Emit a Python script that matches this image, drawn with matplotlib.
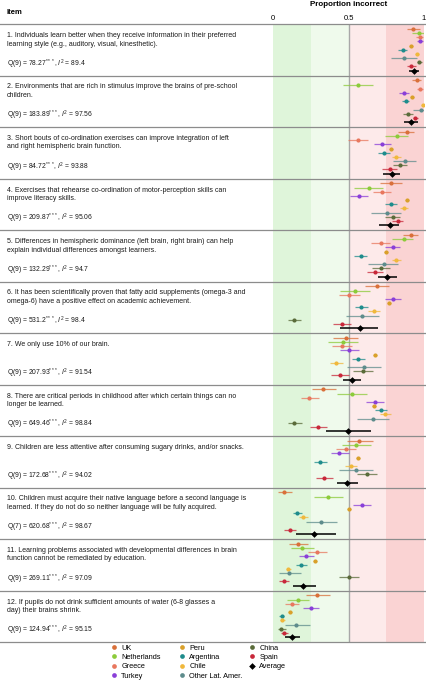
import numpy as np
import matplotlib
matplotlib.use("Agg")
import matplotlib.pyplot as plt
from matplotlib.transforms import blended_transform_factory
from matplotlib.lines import Line2D

plt.rcParams['font.family'] = ['Liberation Sans', 'DejaVu Sans']
plt.rcParams['mathtext.fontset'] = 'custom'
plt.rcParams['mathtext.rm'] = 'Liberation Sans'
plt.rcParams['mathtext.it'] = 'Liberation Sans:italic'

##Data##
countries = ['UK', 'Netherlands', 'Greece', 'Turkey', 'Peru', 'Argentina',
             'Chile', 'Other Lat. Amer.', 'China', 'Spain', 'Average']
colors = ['#d9703a', '#8ccb3a', '#e8775e', '#8a3fd8', '#d9a02a', '#1e8c8c',
          '#f0b83c', '#5e8c8c', '#5a6b3a', '#c8283a', '#000000']

items = [
    "1. Individuals learn better when they receive information in their preferred\nlearning style (e.g., auditory, visual, kinesthetic).",
    "2. Environments that are rich in stimulus improve the brains of pre-school\nchildren.",
    "3. Short bouts of co-ordination exercises can improve integration of left\nand right hemispheric brain function.",
    "4. Exercises that rehearse co-ordination of motor-perception skills can\nimprove literacy skills.",
    "5. Differences in hemispheric dominance (left brain, right brain) can help\nexplain individual differences amongst learners.",
    "6. It has been scientifically proven that fatty acid supplements (omega-3 and\nomega-6) have a positive effect on academic achievement.",
    "7. We only use 10% of our brain.",
    "8. There are critical periods in childhood after which certain things can no\nlonger be learned.",
    "9. Children are less attentive after consuming sugary drinks, and/or snacks.",
    "10. Children must acquire their native language before a second language is\nlearned. If they do not do so neither language will be fully acquired.",
    "11. Learning problems associated with developmental differences in brain\nfunction cannot be remediated by education.",
    "12. If pupils do not drink sufficient amounts of water (6-8 glasses a\nday) their brains shrink.",
]
q_df = [9, 9, 9, 9, 9, 9, 9, 9, 9, 7, 9, 9]
q_val = ['78.27', '183.89', '84.72', '209.87', '132.29', '531.2',
         '207.93', '649.46', '172.68', '620.68', '269.11', '124.94']
i2_val = ['89.4', '97.56', '93.88', '95.06', '94.7', '98.4',
          '91.54', '98.84', '94.02', '98.67', '97.09', '95.15']

nan = np.nan
# rows = items, columns = countries (same order as countries list)
est = [
    [0.929, 0.967, 0.973, 0.973, 0.912, 0.863, 0.956, 0.865, 0.969, 0.916, 0.936],
    [0.951, 0.565, 0.973, 0.870, 0.920, 0.879, 0.991, 0.978, 0.894, 0.943, 0.916],
    [0.885, 0.821, 0.561, 0.724, 0.781, 0.733, 0.815, 0.876, 0.843, 0.773, 0.786],
    [0.784, 0.634, 0.724, 0.570, 0.887, 0.779, 0.870, 0.753, 0.792, 0.826, 0.773],
    [0.914, 0.865, 0.713, 0.792, 0.751, 0.583, 0.815, 0.735, 0.713, 0.678, 0.757],
    [0.691, 0.545, 0.503, 0.792, 0.766, 0.585, 0.669, 0.592, 0.141, 0.455, 0.574],
    [0.483, 0.466, 0.455, 0.506, 0.678, 0.565, 0.417, 0.603, 0.594, 0.444, 0.521],
    [0.333, 0.523, 0.241, 0.675, 0.671, 0.713, 0.744, 0.664, 0.141, 0.300, 0.497],
    [0.572, 0.550, 0.481, 0.439, 0.563, 0.311, 0.514, 0.552, 0.620, 0.340, 0.492],
    [0.073, 0.362, nan, 0.587, 0.503, 0.157, 0.201, 0.316, nan, 0.113, 0.274],
    [0.163, 0.192, 0.294, 0.219, 0.280, 0.185, 0.102, 0.104, 0.503, 0.073, 0.201],
    [0.294, 0.163, 0.124, 0.249, 0.115, 0.057, 0.062, 0.152, 0.053, 0.075, 0.124],
]
lower = [
    [0.885, 0.918, 0.950, 0.956, 0.898, 0.830, 0.943, 0.779, 0.951, 0.885, 0.903],
    [0.918, 0.466, 0.956, 0.837, 0.907, 0.852, 0.980, 0.929, 0.863, 0.925, 0.868],
    [0.826, 0.742, 0.494, 0.669, 0.768, 0.693, 0.786, 0.797, 0.797, 0.724, 0.726],
    [0.709, 0.536, 0.660, 0.510, 0.874, 0.742, 0.841, 0.649, 0.742, 0.786, 0.704],
    [0.863, 0.790, 0.649, 0.742, 0.737, 0.539, 0.786, 0.631, 0.653, 0.620, 0.698],
    [0.609, 0.444, 0.435, 0.742, 0.753, 0.543, 0.631, 0.481, 0.102, 0.395, 0.444],
    [0.400, 0.366, 0.389, 0.444, 0.664, 0.521, 0.377, 0.492, 0.528, 0.384, 0.466],
    [0.256, 0.426, 0.185, 0.616, 0.658, 0.675, 0.709, 0.558, 0.097, 0.245, 0.351],
    [0.488, 0.455, 0.417, 0.382, 0.550, 0.272, 0.477, 0.439, 0.558, 0.285, 0.426],
    [0.035, 0.274, nan, 0.528, 0.490, 0.130, 0.174, 0.219, nan, 0.075, 0.150],
    [0.106, 0.119, 0.234, 0.172, 0.267, 0.152, 0.086, 0.042, 0.439, 0.042, 0.130],
    [0.219, 0.095, 0.079, 0.201, 0.102, 0.042, 0.046, 0.079, 0.030, 0.050, 0.080],
]
upper = [
    [0.974, 1.000, 0.996, 0.991, 0.925, 0.890, 0.969, 0.951, 0.987, 0.945, 0.969],
    [0.978, 0.660, 0.991, 0.903, 0.934, 0.903, 1.000, 1.000, 0.925, 0.960, 0.962],
    [0.936, 0.896, 0.631, 0.779, 0.795, 0.775, 0.845, 0.947, 0.890, 0.823, 0.841],
    [0.852, 0.726, 0.784, 0.631, 0.900, 0.819, 0.896, 0.845, 0.841, 0.863, 0.834],
    [0.958, 0.929, 0.775, 0.841, 0.764, 0.625, 0.845, 0.830, 0.775, 0.731, 0.819],
    [0.770, 0.642, 0.576, 0.845, 0.779, 0.627, 0.709, 0.700, 0.185, 0.517, 0.698],
    [0.565, 0.565, 0.521, 0.572, 0.691, 0.609, 0.461, 0.713, 0.660, 0.503, 0.581],
    [0.415, 0.620, 0.305, 0.735, 0.684, 0.753, 0.784, 0.768, 0.192, 0.360, 0.647],
    [0.660, 0.649, 0.550, 0.503, 0.576, 0.355, 0.558, 0.664, 0.687, 0.400, 0.561],
    [0.124, 0.461, nan, 0.647, 0.517, 0.190, 0.234, 0.426, nan, 0.152, 0.417],
    [0.234, 0.274, 0.360, 0.272, 0.294, 0.223, 0.117, 0.183, 0.570, 0.108, 0.285],
    [0.377, 0.241, 0.174, 0.307, 0.128, 0.073, 0.077, 0.245, 0.086, 0.100, 0.180],
]

est = np.array(est)
lower = np.array(lower)
upper = np.array(upper)
n_items = len(items)
n_rows = len(countries)

W, H = 427, 680
fig = plt.figure(figsize=(W / 100, H / 100), dpi=100)
# data panel: x 0..1 sits between pixel 273 and 424, rows between 24 and 642
ax = fig.add_axes([273 / W, 1 - 642 / H, (424 - 273) / W, (642 - 24) / H])
ax.set_xlim(0, 1)
ax.set_ylim(n_items, 0)

# background bands
ax.axvspan(0, 0.25, color='#dff5da', lw=0, zorder=0)
ax.axvspan(0.25, 0.5, color='#effaec', lw=0, zorder=0)
ax.axvspan(0.5, 0.75, color='#fdeaea', lw=0, zorder=0)
ax.axvspan(0.75, 1, color='#fad3d3', lw=0, zorder=0)
ax.axvline(0.5, color='#a8a8a8', lw=1.0, zorder=1)

for i in range(n_items):
    for k in range(n_rows):
        if np.isnan(est[i, k]):
            continue
        y = i + (k + 1.2) / (n_rows + 1.4)
        is_avg = countries[k] == 'Average'
        ax.plot([lower[i, k], upper[i, k]], [y, y], color=colors[k],
                lw=1.1 if is_avg else 0.9, alpha=1 if is_avg else 0.75,
                solid_capstyle='butt', zorder=2)
        ax.plot(est[i, k], y, marker='D' if is_avg else 'o',
                ms=3.4 if is_avg else 3.0, color=colors[k], mec='none', zorder=3)

for s in ax.spines.values():
    s.set_visible(False)
ax.set_yticks([])
ax.xaxis.tick_top()
ax.set_xticks([0, 0.5, 1])
ax.set_xticklabels(['0', '0.5', '1'])
ax.tick_params(axis='x', length=0, pad=1.5, labelsize=5.5)

# separators across full width and item texts
trans = blended_transform_factory(fig.transFigure, ax.transData)
for i in range(n_items + 1):
    ax.plot([0, 1], [i, i], color='#8c8c8c', lw=0.9, transform=trans,
            clip_on=False, zorder=4)
for i in range(n_items):
    ax.text(7 / W, i + 8 / 51.5, items[i], transform=trans, fontsize=5.0,
            va='top', ha='left', linespacing=1.3, color='#1a1a1a')
    q = r"Q(%d) = %s$^{***}$, $I^2$ = %s" % (q_df[i], q_val[i], i2_val[i])
    ax.text(7 / W, i + 40 / 51.5, q, transform=trans, fontsize=4.9,
            va='center', ha='left', color='#1a1a1a')

fig.text(7 / W, 1 - 12 / H, 'Item', fontsize=5.5, fontweight='bold',
         va='center', ha='left')
fig.text((273 + 424) / 2 / W, 1 - 5 / H, 'Proportion incorrect', fontsize=5.8,
         fontweight='bold', va='center', ha='center')

# legend: three columns with their own left edges
handles = [Line2D([], [], ls='none', marker='D' if c == 'Average' else 'o',
                  ms=3.4, color=col, mec='none')
           for c, col in zip(countries, colors)]
col_x = [111, 179, 249]
for j, (a, b) in enumerate([(0, 4), (4, 8), (8, 11)]):
    leg = fig.legend(handles[a:b], countries[a:b], loc='upper left',
                     bbox_to_anchor=(col_x[j] / W, 1 - 644.5 / H),
                     frameon=False, fontsize=5.3, handlelength=0.8,
                     handletextpad=0.6, labelspacing=0.3, borderaxespad=0,
                     borderpad=0)

fig.savefig('out.png', dpi=100)
